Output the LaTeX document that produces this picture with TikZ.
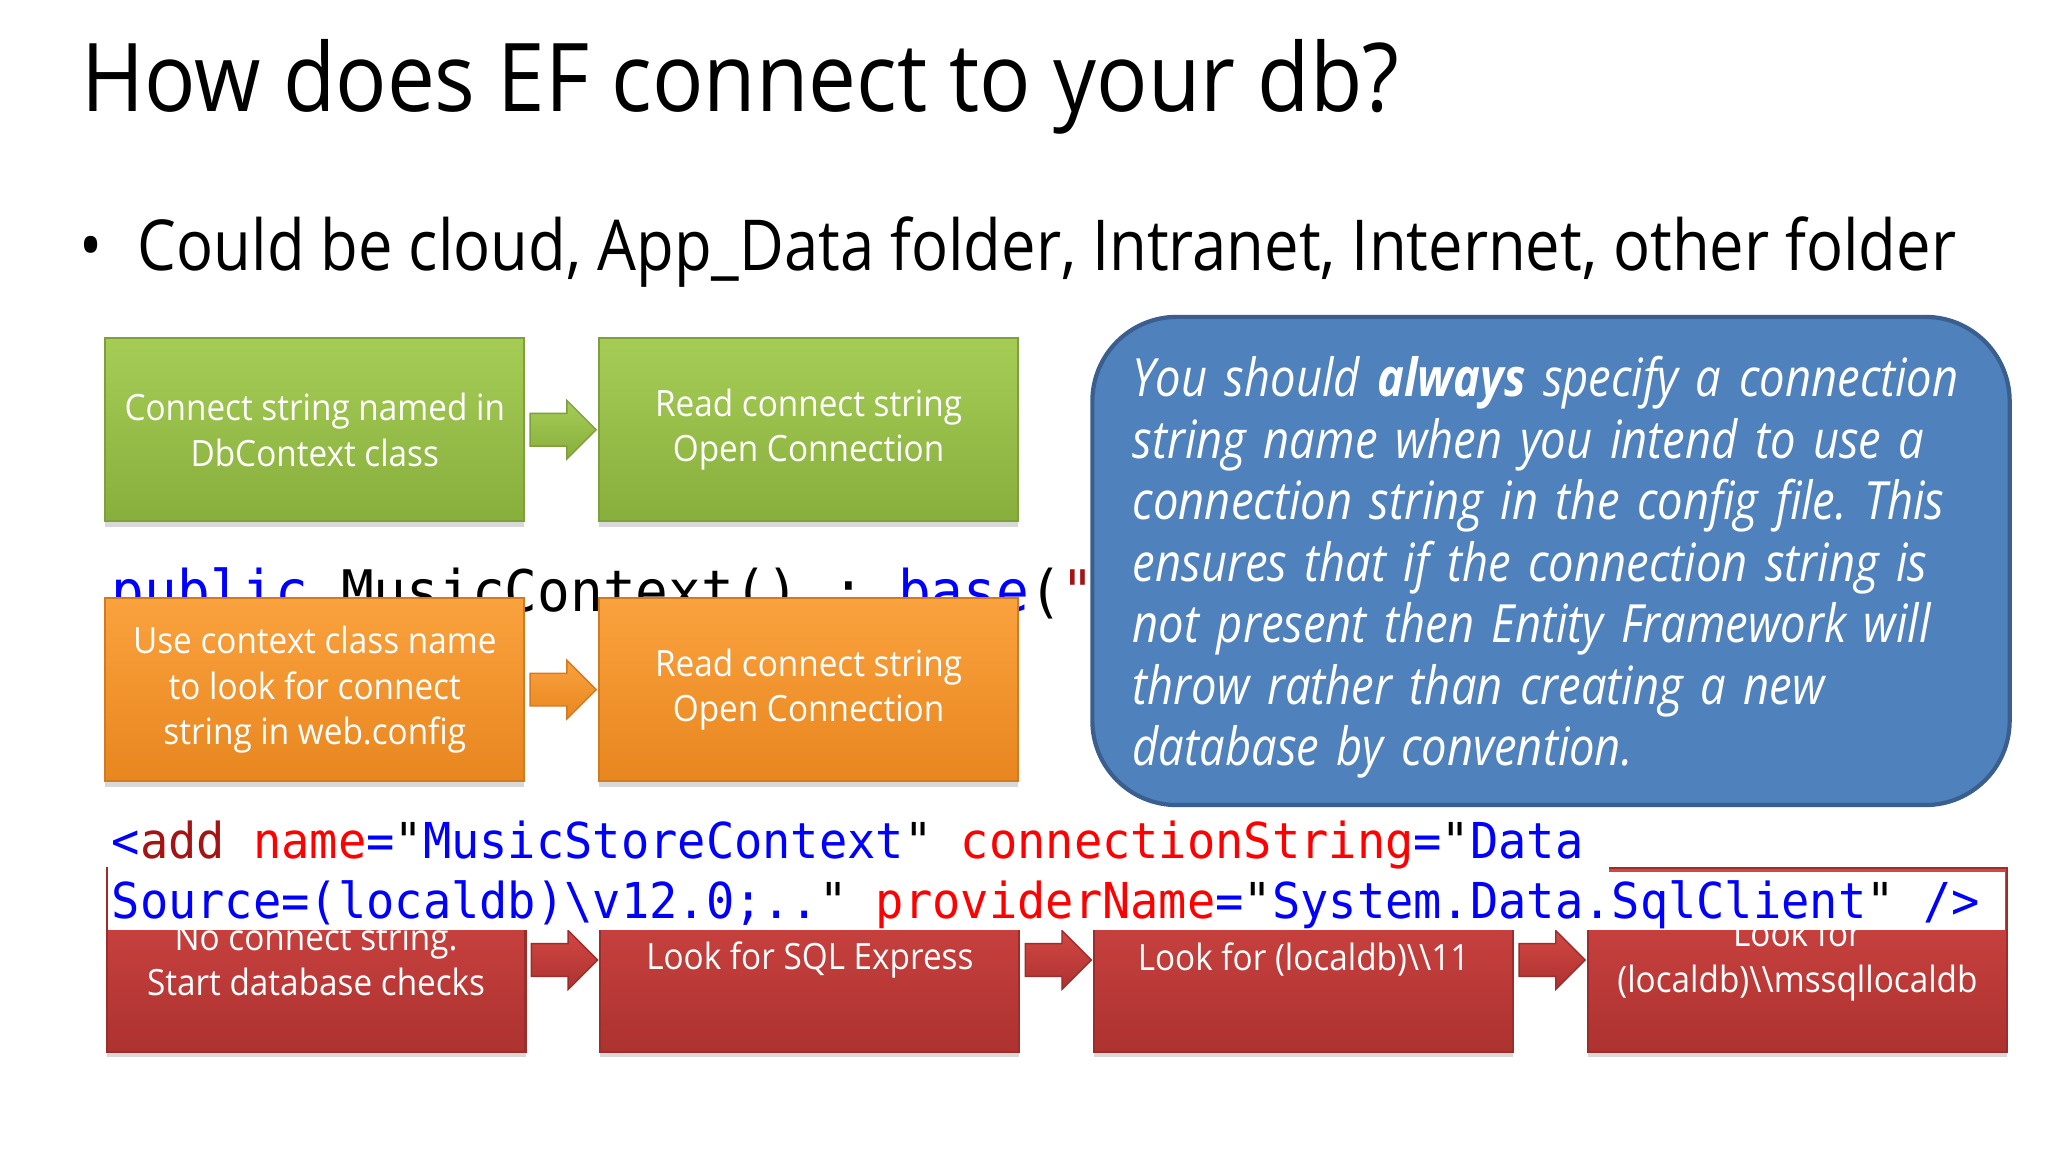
\documentclass[tikz,border=0pt]{standalone}
\usepackage{fontspec}
\setmainfont{Open Sans}
\setmonofont{DejaVu Sans Mono}[FakeStretch=0.95]
\newfontfamily\boxfont{Open Sans}[FakeStretch=0.92]
\newfontfamily\notefont{Open Sans}[FakeStretch=0.86]
\newfontfamily\headfont{Open Sans}[FakeStretch=0.9]
\newfontfamily\pointfont{Open Sans}[FakeStretch=0.875]
\usetikzlibrary{positioning,shapes.arrows,shadows,calc}

\definecolor{greentop}{HTML}{A5CD56}
\definecolor{greenbot}{HTML}{88AE3C}
\definecolor{greenedge}{HTML}{7E9F3C}
\definecolor{orangetop}{HTML}{FAA23E}
\definecolor{orangebot}{HTML}{E8861F}
\definecolor{orangeedge}{HTML}{D07A22}
\definecolor{redtop}{HTML}{D24744}
\definecolor{redbot}{HTML}{AD3230}
\definecolor{rededge}{HTML}{9C2D2B}
\definecolor{notefill}{HTML}{4F81BD}
\definecolor{noteedge}{HTML}{3A5F8E}
\definecolor{codeblue}{HTML}{0000FF}
\definecolor{codeattr}{HTML}{FF0000}
\definecolor{codetag}{HTML}{A31515}

\newcommand{\xmlval}[1]{\textcolor{codeblue}{#1}}
\newcommand{\xmlattr}[1]{\textcolor{codeattr}{#1}}
\newcommand{\xmltag}[1]{\textcolor{codetag}{#1}}

\begin{document}
\begin{tikzpicture}[
    x=0.013061cm, y=-0.013061cm,
    node distance=20.7pt,
    flowbox/.style={draw, line width=0.6pt, minimum width=119.2pt, minimum height=52.2pt, align=center,
        text=white, font=\boxfont\fontsize{10.3}{13}\selectfont,
        drop shadow={opacity=0.3, shadow xshift=0pt, shadow yshift=-1.5pt}},
    greenbox/.style={flowbox, top color=greentop, bottom color=greenbot, draw=greenedge},
    orangebox/.style={flowbox, top color=orangetop, bottom color=orangebot, draw=orangeedge},
    redbox/.style={flowbox, top color=redtop, bottom color=redbot, draw=rededge},
    blockarrow/.style={single arrow, minimum height=18.8pt, minimum width=0pt, inner xsep=0pt, inner ysep=4.45pt,
        single arrow head extend=3.7pt, line width=0.4pt, xshift=-1.9pt},
    codeline/.style={anchor=base west, inner sep=0pt, font=\ttfamily\fontsize{14.08}{17}\selectfont}
]
\useasboundingbox (0,0) rectangle (1568,882);
\fill[white] (0,0) rectangle (1568,882);

% Titel und Aufzaehlung
\node[anchor=base west, inner sep=0pt, font=\headfont\fontsize{27}{32}\selectfont] (title) at (62,85) {How does EF connect to your db?};
\node[anchor=base west, inner sep=0pt, font=\pointfont\fontsize{20}{24}\selectfont] (dot) at (60,207) {\textbullet};
\node[anchor=base west, inner sep=0pt, font=\pointfont\fontsize{20}{24}\selectfont] (point) at (105,207) {Could be cloud, App\_Data folder, Intranet, Internet, other folder};

% gruene Reihe
\node[greenbox] (green1) at (241,329) {Connect string named in\\DbContext class};
\node[greenbox, right=of green1] (green2) {Read connect string\\Open Connection};
\node[blockarrow, top color=greentop, bottom color=greenbot, draw=greenedge] (garrow) at ($(green1.east)!0.5!(green2.west)$) {};

% Konstruktor
\node[codeline, font=\ttfamily\fontsize{16.3}{19}\selectfont] (ctor) at (85,468) {\xmlval{public} MusicContext() : \xmlval{base}(\xmltag{"}};

% orange Reihe
\node[orangebox] (orange1) at (241,528) {Use context class name\\to look for connect\\string in web.config};
\node[orangebox, right=of orange1] (orange2) {Read connect string\\Open Connection};
\node[blockarrow, top color=orangetop, bottom color=orangebot, draw=orangeedge] (oarrow) at ($(orange1.east)!0.5!(orange2.west)$) {};

% Hinweis
\node[draw=noteedge, line width=1.2pt, fill=notefill, rounded corners=24pt, minimum width=261pt, minimum height=138.9pt] (note) at (1187.5,429.5) {};
\node[text=white, text width=238pt, align=left, inner sep=0pt, font=\notefont\itshape\frenchspacing\fontsize{15}{17.5}\selectfont] (notetext) at ([yshift=-1.8pt]note.center)
    {You should \textbf{always} specify a connection\\
     string name when you intend to use a\\
     connection string in the config file. This\\
     ensures that if the connection string is\\
     not present then Entity Framework will\\
     throw rather than creating a new\\
     database by convention.};

% rote Reihe
\node[redbox] (red1) at (242,735) {No connect string.\\Start database checks};
\node[redbox, right=of red1] (red2) {Look for SQL Express};
\node[redbox, right=of red2] (red3) {Look for (localdb)\textbackslash\textbackslash 11};
\node[redbox, right=of red3] (red4) {Look for\\(localdb)\textbackslash\textbackslash mssqllocaldb};
\node[blockarrow, top color=redtop, bottom color=redbot, draw=rededge] (rarrow1) at ($(red1.east)!0.5!(red2.west)$) {};
\node[blockarrow, top color=redtop, bottom color=redbot, draw=rededge] (rarrow2) at ($(red2.east)!0.5!(red3.west)$) {};
\node[blockarrow, top color=redtop, bottom color=redbot, draw=rededge] (rarrow3) at ($(red3.east)!0.5!(red4.west)$) {};

% web.config Eintrag
\fill[white] (83,622) rectangle (1232,668);
\fill[white] (83,668) rectangle (1535,712);
\node[codeline] (xmladd) at (85,657) {\xmlval{<}\xmltag{add} \xmlattr{name}\xmlval{=}"\xmlval{MusicStoreContext}" \xmlattr{connectionString}\xmlval{=}"\xmlval{Data}};
\node[codeline] (xmlsrc) at (85,703) {\xmlval{Source=(localdb)\textbackslash v12.0;..}" \xmlattr{providerName}\xmlval{=}"\xmlval{System.Data.SqlClient}" \xmlval{/>}};

\end{tikzpicture}
\end{document}
